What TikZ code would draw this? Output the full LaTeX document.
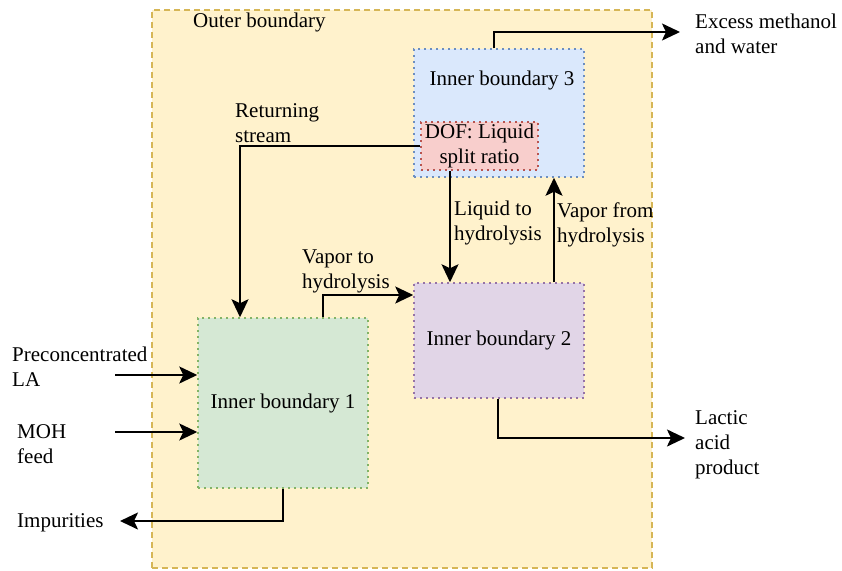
\documentclass[tikz,border=0pt]{standalone}
\usepackage{fontspec}
\setmainfont{Liberation Serif}
\usetikzlibrary{arrows.meta}
\definecolor{outerfill}{HTML}{FFF2CC}
\definecolor{outerline}{HTML}{D6B656}
\definecolor{bluefill}{HTML}{DAE8FC}
\definecolor{blueline}{HTML}{6C8EBF}
\definecolor{redfill}{HTML}{F8CECC}
\definecolor{redline}{HTML}{B85450}
\definecolor{purplefill}{HTML}{E1D5E7}
\definecolor{purpleline}{HTML}{9673A6}
\definecolor{greenfill}{HTML}{D5E8D4}
\definecolor{greenline}{HTML}{82B366}

\begin{document}
\begin{tikzpicture}[x=1pt, y=-1pt, font=\fontsize{21}{25}\selectfont,
  boundary/.style={rectangle, line width=1.5pt, dash pattern=on 2pt off 4pt, inner sep=0pt},
  flow/.style={line width=2pt, -{Stealth[length=18pt, width=17pt, inset=4pt]}},
  lbl/.style={anchor=west, inner sep=0pt, align=left, yshift=-1.5pt}]
\useasboundingbox (0,0) rectangle (842,570);
\node[boundary, draw=outerline, fill=outerfill, dash pattern=on 6pt off 4pt, minimum width=500pt, minimum height=558pt] (outer) at (402,289) {};
\node[lbl] (outertxt) at (193,21) {Outer boundary};
\node[boundary, draw=blueline, fill=bluefill, minimum width=170pt, minimum height=128pt] (ib3) at (499,113) {};
\node (ib3txt) at (502,80.5) {Inner boundary 3};
\node[boundary, draw=redline, fill=redfill, minimum width=117pt, minimum height=48pt, align=center] (dof) at (479.5,146) {DOF: Liquid\\split ratio};
\node[boundary, draw=purpleline, fill=purplefill, minimum width=170pt, minimum height=115pt] (ib2) at (499,340.5) {Inner boundary 2};
\node[boundary, draw=greenline, fill=greenfill, minimum width=170pt, minimum height=170pt] (ib1) at (283,403) {Inner boundary 1};
% stream labels
\node[lbl] (retlbl) at (235,122) {Returning\\stream};
\node[lbl] (liqlbl) at (454,221) {Liquid to\\hydrolysis};
\node[lbl] (vapfromlbl) at (557,223) {Vapor from\\hydrolysis};
\node[lbl] (vaptolbl) at (302,270) {Vapor to\\hydrolysis};
\node[lbl] (prec) at (12,365) {Preconcentrated\\LA};
\node[lbl] (moh) at (17,443) {MOH\\feed};
\node[lbl] (imp) at (17,521) {Impurities};
\node[lbl] (excess) at (695,32) {Excess methanol\\and water};
\node[lbl] (lactic) at (695,443) {Lactic\\acid\\product};
\coordinate (precin) at (115,375);
\coordinate (mohin) at (115,432);
\coordinate (impout) at (120,521);
\coordinate (excout) at (680,32);
\coordinate (lacout) at (685,438);
\coordinate (liqtop) at ([xshift=-29.5pt]dof.south);
\coordinate (vapbot) at ([xshift=55pt]ib2.north);
% streams
\draw[flow] ([xshift=-5pt]ib3.north) |- (excout);
\draw[flow] (dof.west) -| ([xshift=-43pt]ib1.north);
\draw[flow] (liqtop) -- (liqtop |- ib2.north);
\draw[flow] (vapbot) -- (vapbot |- ib3.south);
\draw[flow] ([xshift=40pt]ib1.north) |- ([yshift=45.5pt]ib2.west);
\draw[flow] (precin) -- (precin -| ib1.west);
\draw[flow] (mohin) -- (mohin -| ib1.west);
\draw[flow] (ib1.south) |- (impout);
\draw[flow] ([xshift=-1pt]ib2.south) |- (lacout);
\end{tikzpicture}
\end{document}
